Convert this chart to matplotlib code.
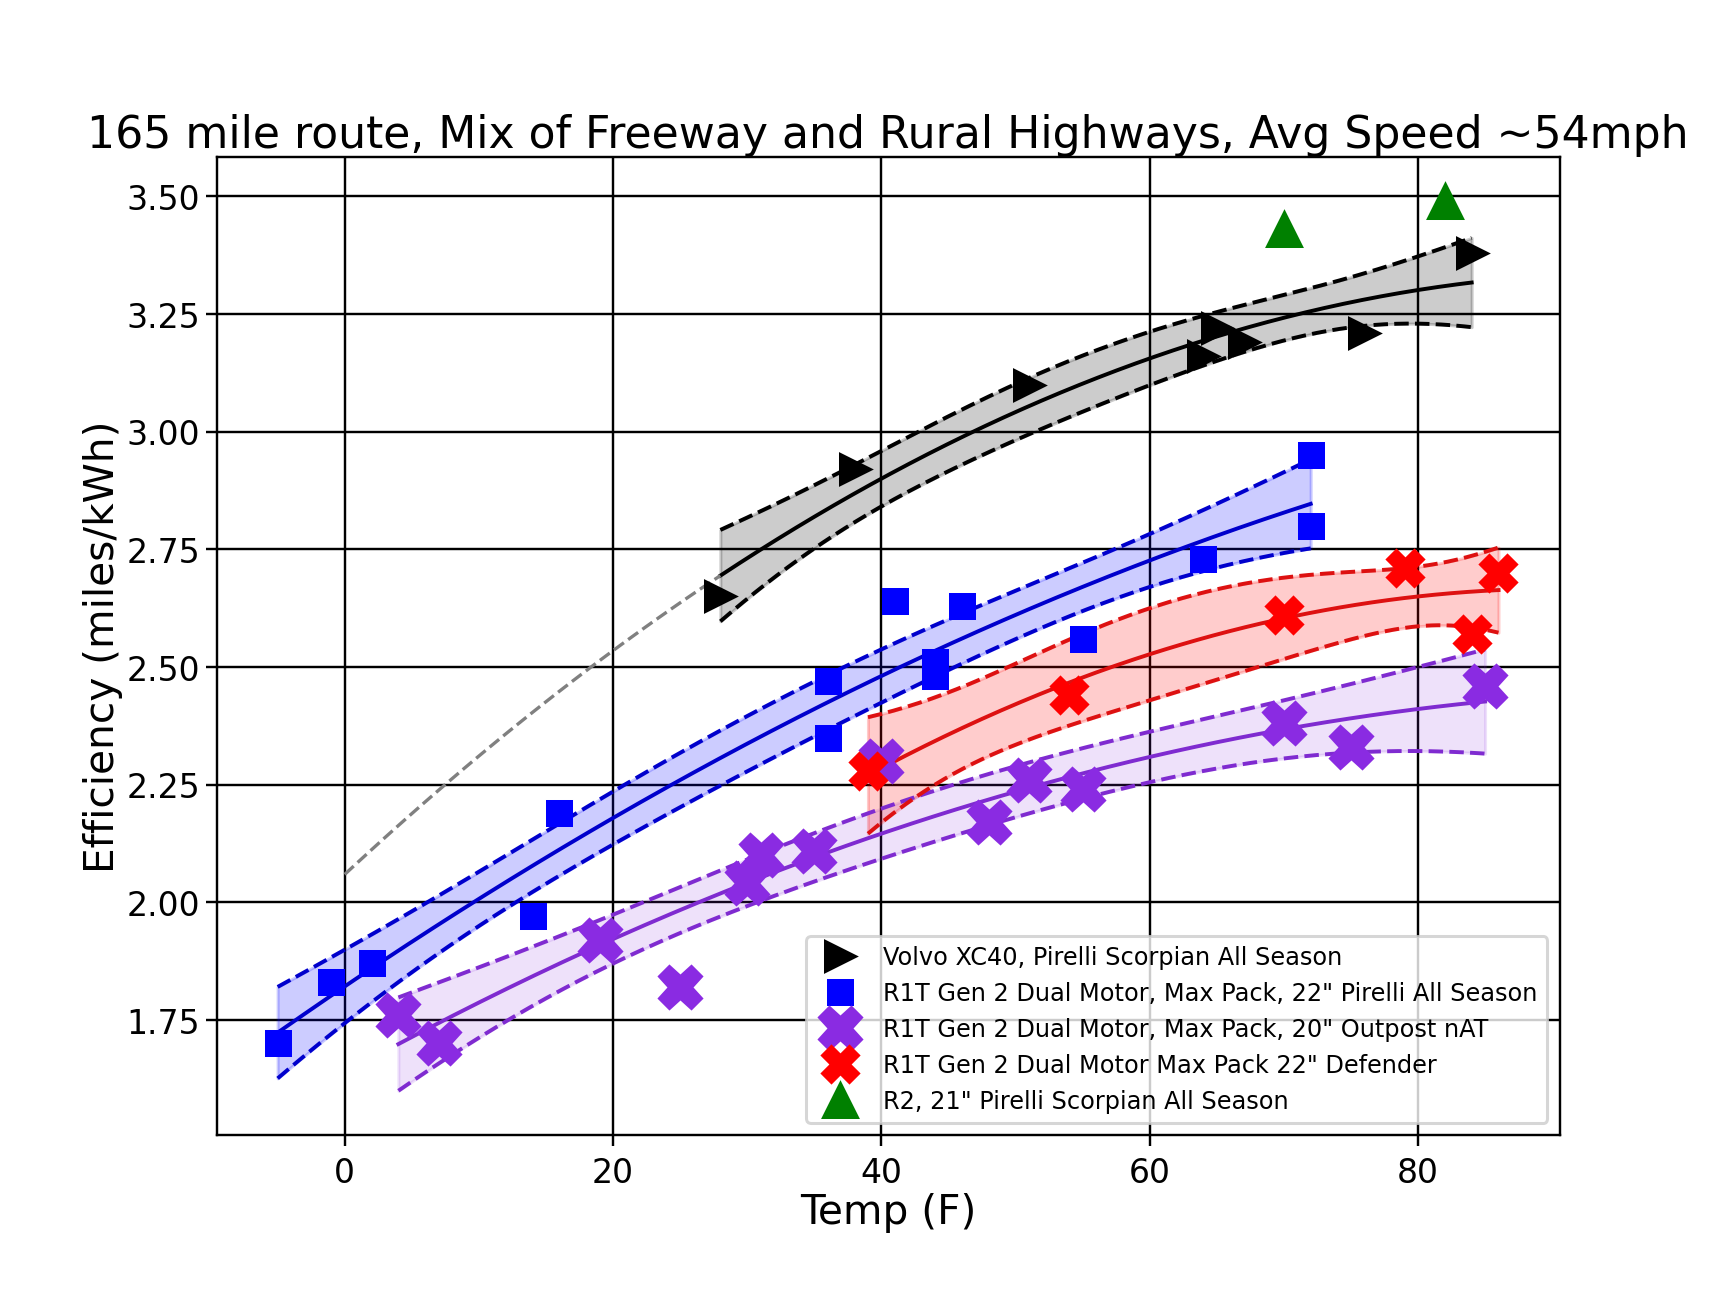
import numpy as np
import matplotlib.pyplot as plt

# Volvo XC40, Pirelli Scorpian All Season
volvo_t = [28, 38, 51, 64, 65, 67, 76, 84]
volvo_e = [2.65, 2.92, 3.10, 3.16, 3.22, 3.19, 3.21, 3.38]

# R1T Gen 2 Dual Motor, Max Pack, 22" Pirelli All Season
r1t_pir_t = [-5, -1, 2, 14, 16, 36, 36, 41, 44, 44, 46, 55, 64, 72, 72]
r1t_pir_e = [1.70, 1.83, 1.87, 1.97, 2.19, 2.47, 2.35, 2.64, 2.51, 2.48, 2.63, 2.56, 2.73, 2.95, 2.80]

# R1T Gen 2 Dual Motor, Max Pack, 20" Outpost nAT
r1t_out_t = [4, 7, 19, 25, 30, 31, 35, 40, 48, 51, 55, 70, 75, 85]
r1t_out_e = [1.76, 1.70, 1.92, 1.82, 2.04, 2.10, 2.11, 2.30, 2.17, 2.26, 2.24, 2.38, 2.33, 2.46]

# R1T Gen 2 Dual Motor Max Pack 22" Defender
r1t_def_t = [39, 54, 70, 79, 84, 86]
r1t_def_e = [2.28, 2.44, 2.61, 2.71, 2.57, 2.70]

# R2, 21" Pirelli Scorpian All Season
r2_t = [70, 82]
r2_e = [3.43, 3.49]

# width of the band around the quadratic fit (in std errors)
band_k = 1.85


def fit_band(ax, t, e, color, fill, alpha):
    t = np.array(t, float)
    e = np.array(e, float)
    p, cov = np.polyfit(t, e, 2, cov=True)
    xs = np.linspace(t.min(), t.max(), 200)
    X = np.vstack([xs**2, xs, np.ones_like(xs)]).T
    yhat = X @ p
    se = np.sqrt(np.einsum('ij,jk,ik->i', X, cov, X))
    lo, hi = yhat - band_k * se, yhat + band_k * se
    ax.fill_between(xs, lo, hi, color=fill, alpha=alpha, zorder=1)
    ax.plot(xs, yhat, color=color, lw=1.3, zorder=2)
    ax.plot(xs, lo, color=color, lw=1.3, ls='--', zorder=2)
    ax.plot(xs, hi, color=color, lw=1.3, ls='--', zorder=2)
    return p


fig, ax = plt.subplots(figsize=(8, 6), dpi=216.6)
fig.subplots_adjust(left=0.125, right=0.9, bottom=0.126, top=0.879)

p_volvo = fit_band(ax, volvo_t, volvo_e, 'black', 'black', 0.2)
# extrapolate the Volvo fit back to 0F
xs0 = np.linspace(0, min(volvo_t), 100)
ax.plot(xs0, np.polyval(p_volvo, xs0), color='gray', ls='--', lw=1.1, zorder=2)
fit_band(ax, r1t_pir_t, r1t_pir_e, '#0000cc', 'blue', 0.2)
fit_band(ax, r1t_out_t, r1t_out_e, '#7f2bd0', 'blueviolet', 0.14)
fit_band(ax, r1t_def_t, r1t_def_e, '#dd1111', 'red', 0.2)

ax.plot(volvo_t, volvo_e, '>', color='black', ms=10, ls='none', zorder=3,
        label='Volvo XC40, Pirelli Scorpian All Season')
ax.plot(r1t_pir_t, r1t_pir_e, 's', color='blue', ms=8, ls='none', zorder=3,
        label='R1T Gen 2 Dual Motor, Max Pack, 22" Pirelli All Season')
ax.plot(r1t_out_t, r1t_out_e, 'X', color='blueviolet', ms=14, ls='none', zorder=3,
        label='R1T Gen 2 Dual Motor, Max Pack, 20" Outpost nAT')
ax.plot(r1t_def_t, r1t_def_e, 'X', color='red', ms=12, ls='none', zorder=3,
        label='R1T Gen 2 Dual Motor Max Pack 22" Defender')
ax.plot(r2_t, r2_e, '^', color='green', ms=11, ls='none', zorder=3,
        label='R2, 21" Pirelli Scorpian All Season')

ax.set_yticks([1.75, 2.00, 2.25, 2.50, 2.75, 3.00, 3.25, 3.50])
ax.set_yticklabels(['1.75', '2.00', '2.25', '2.50', '2.75', '3.00', '3.25', '3.50'])
ax.tick_params(labelsize=11)
ax.tick_params(axis='y', pad=2)
ax.grid(True, color='black', lw=0.8)
ax.set_axisbelow(True)

ax.set_xlabel('Temp (F)', fontsize=13.5, labelpad=1)
ax.set_ylabel('Efficiency (miles/kWh)', fontsize=13.5, labelpad=1)
ax.set_title('165 mile route, Mix of Freeway and Rural Highways, Avg Speed ~54mph',
             fontsize=14.7, pad=3)
ax.legend(loc='lower right', fontsize=8)

fig.savefig('out.png')
